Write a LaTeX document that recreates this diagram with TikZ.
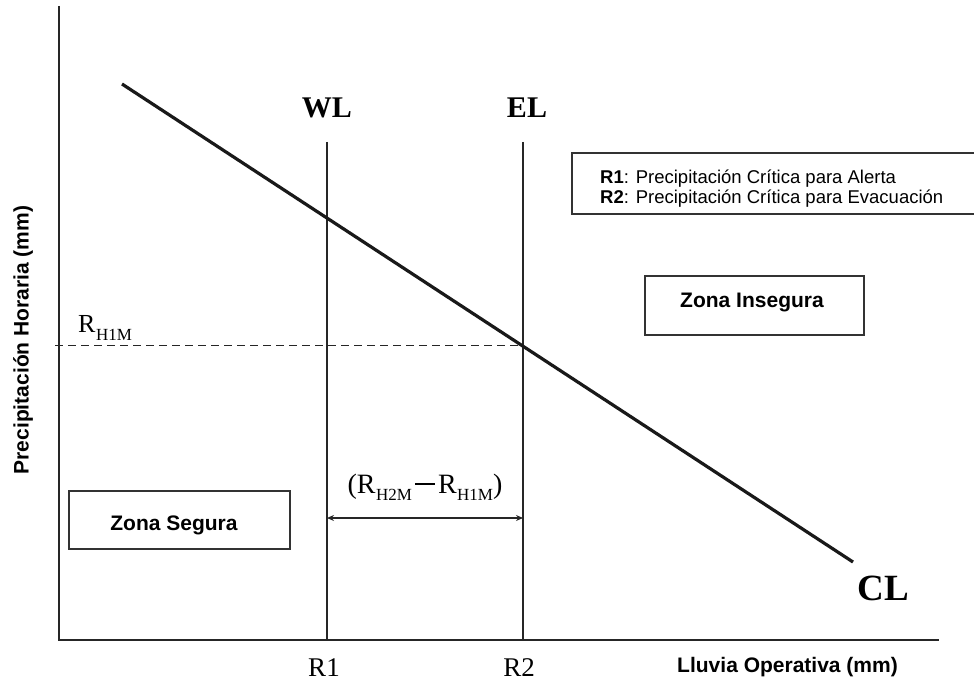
\documentclass[tikz,border=0pt]{standalone}
\usepackage{fontspec}
\setmainfont{Liberation Serif}
\setsansfont{Liberation Sans}
\usetikzlibrary{arrows.meta}

\tikzset{
  axisline/.style={line width=1.4pt, draw=black!85},
  limitline/.style={line width=1.3pt, draw=black!85},
  critline/.style={line width=3.2pt, draw=black!90},
  refline/.style={line width=1pt, draw=black!85, dash pattern=on 8pt off 5pt},
  zonebox/.style={line width=1.4pt, draw=black!80},
  serifbig/.style={font=\bfseries\fontsize{30}{30}\selectfont, inner sep=0pt},
  seriflab/.style={font=\fontsize{27}{27}\selectfont, inner sep=0pt},
  sanslab/.style={font=\sffamily\bfseries\fontsize{21}{21}\selectfont, inner sep=0pt},
  legendtxt/.style={font=\sffamily\fontsize{18.5}{18.5}\selectfont, inner sep=0pt, anchor=base west},
  dimarrow/.style={line width=1.2pt, draw=black!85, {Stealth[length=7pt,width=6pt]}-{Stealth[length=7pt,width=6pt]}}
}

\newcommand{\Rsub}[1]{R\kern0.5pt\raisebox{-0.28em}{\fontsize{17}{17}\selectfont #1}}

\begin{document}
\begin{tikzpicture}[x=1pt, y=-1pt]
\useasboundingbox (0,0) rectangle (974,684);
\clip (0,0) rectangle (974,684);

% axes
\coordinate (ytop) at (59,6);
\coordinate (origin) at (59,640);
\coordinate (xend) at (939,640);
\draw[axisline] (ytop) -- (origin) -- (xend);

% warning and evacuation limits
\coordinate (wltop) at (327,142);
\coordinate (wlbot) at (327,640);
\coordinate (eltop) at (523,142);
\coordinate (elbot) at (523,640);
\draw[limitline] (wltop) -- (wlbot);
\draw[limitline] (eltop) -- (elbot);

% critical line
\coordinate (clstart) at (122,84);
\coordinate (clend) at (853,562);
\draw[critline] (clstart) -- (clend);

% hourly rainfall reference
\coordinate (rhstart) at (55,346);
\coordinate (rhend) at (523,346);
\draw[refline] (rhstart) -- (rhend);
\node[font=\fontsize{26}{26}\selectfont, inner sep=0pt, anchor=base west] (rh1m) at (78,333) {\Rsub{H1M}};

% difference between limits
\coordinate (dimleft) at (327,518);
\coordinate (dimright) at (523,518);
\draw[dimarrow] (dimleft) -- (dimright);
\node[font=\fontsize{28}{28}\selectfont, inner sep=0pt, anchor=base] (diff) at (425,493)
  {(\Rsub{H2M}\kern3pt\rule[0.3em]{20pt}{1.4pt}\kern3pt\Rsub{H1M})};

% line labels
\node[serifbig, anchor=base] (wl) at (327,118) {WL};
\node[serifbig, anchor=base] (el) at (527,118) {EL};
\node[font=\bfseries\fontsize{37}{37}\selectfont, inner sep=0pt, anchor=base] (cl) at (883,600) {CL};

% axis tick labels
\node[seriflab, anchor=base] (r1) at (324,676) {R1};
\node[seriflab, anchor=base] (r2) at (519,676) {R2};

% axis titles
\node[sanslab, anchor=base east] (xtitle) at (898,672) {Lluvia Operativa (mm)};
\node[sanslab, rotate=90] (ytitle) at (23,340) {Precipitación Horaria (mm)};

% legend
\draw[zonebox] (572,153) rectangle (990,214);
\node[legendtxt] (leg1) at (600,184) {\textbf{R1}: Precipitación Crítica para Alerta};
\node[legendtxt] (leg2) at (600,204) {\textbf{R2}: Precipitación Crítica para Evacuación};

% zones
\draw[zonebox] (645,276) rectangle (864,335);
\node[sanslab, anchor=base] (unsafe) at (752,308) {Zona Insegura};
\draw[zonebox] (69,491) rectangle (290,549);
\node[sanslab, anchor=base] (safe) at (174,530) {Zona Segura};
\end{tikzpicture}
\end{document}
